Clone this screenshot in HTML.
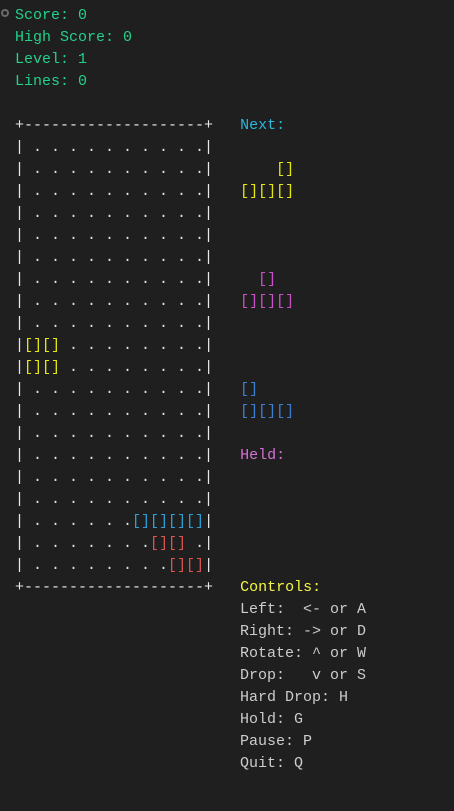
<!DOCTYPE html>
<html><head><meta charset="utf-8"><style>
html,body{margin:0;padding:0;background:#1f1f1f;width:454px;height:811px;overflow:hidden}
pre{position:absolute;left:15px;top:5px;margin:0;font-family:"Liberation Mono",monospace;font-size:15px;line-height:22px;color:#cccccc;white-space:pre}
.g{color:#23d18b}.c{color:#29b8db}.m{color:#d670d6}.yl{color:#f5f543}
.b{color:#e8e8e8}.d{color:#d8e4f0}
.y{color:#e5e510}.p{color:#c850c8}.bl{color:#3b7fd0}.bc{color:#2a9ed8}.r{color:#d9534f}
.dot{position:absolute;left:1px;top:9px;border:2px solid #6a6a6a;border-radius:50%;box-sizing:border-box;width:8px;height:8px}
</style></head><body>
<div class="dot"></div>
<pre><span class="g">Score: 0
High Score: 0
Level: 1
Lines: 0</span>

<span class="b">+--------------------+</span>   <span class="c">Next:</span>
<span class="b">|</span><span class="d"> . . . . . . . . . .</span><span class="b">|</span>
<span class="b">|</span><span class="d"> . . . . . . . . . .</span><span class="b">|</span>       <span class="y">[]</span>
<span class="b">|</span><span class="d"> . . . . . . . . . .</span><span class="b">|</span>   <span class="y">[][][]</span>
<span class="b">|</span><span class="d"> . . . . . . . . . .</span><span class="b">|</span>
<span class="b">|</span><span class="d"> . . . . . . . . . .</span><span class="b">|</span>
<span class="b">|</span><span class="d"> . . . . . . . . . .</span><span class="b">|</span>
<span class="b">|</span><span class="d"> . . . . . . . . . .</span><span class="b">|</span>     <span class="p">[]</span>
<span class="b">|</span><span class="d"> . . . . . . . . . .</span><span class="b">|</span>   <span class="p">[][][]</span>
<span class="b">|</span><span class="d"> . . . . . . . . . .</span><span class="b">|</span>
<span class="b">|</span><span class="y">[][]</span><span class="d"> . . . . . . . .</span><span class="b">|</span>
<span class="b">|</span><span class="y">[][]</span><span class="d"> . . . . . . . .</span><span class="b">|</span>
<span class="b">|</span><span class="d"> . . . . . . . . . .</span><span class="b">|</span>   <span class="bl">[]</span>
<span class="b">|</span><span class="d"> . . . . . . . . . .</span><span class="b">|</span>   <span class="bl">[][][]</span>
<span class="b">|</span><span class="d"> . . . . . . . . . .</span><span class="b">|</span>
<span class="b">|</span><span class="d"> . . . . . . . . . .</span><span class="b">|</span>   <span class="m">Held:</span>
<span class="b">|</span><span class="d"> . . . . . . . . . .</span><span class="b">|</span>
<span class="b">|</span><span class="d"> . . . . . . . . . .</span><span class="b">|</span>
<span class="b">|</span><span class="d"> . . . . . .</span><span class="bc">[][][][]</span><span class="b">|</span>
<span class="b">|</span><span class="d"> . . . . . . .</span><span class="r">[][]</span><span class="d"> .</span><span class="b">|</span>
<span class="b">|</span><span class="d"> . . . . . . . .</span><span class="r">[][]</span><span class="b">|</span>
<span class="b">+--------------------+</span>   <span class="yl">Controls:</span>
                         Left:  &lt;- or A
                         Right: -&gt; or D
                         Rotate: ^ or W
                         Drop:   v or S
                         Hard Drop: H
                         Hold: G
                         Pause: P
                         Quit: Q</pre>
</body></html>
